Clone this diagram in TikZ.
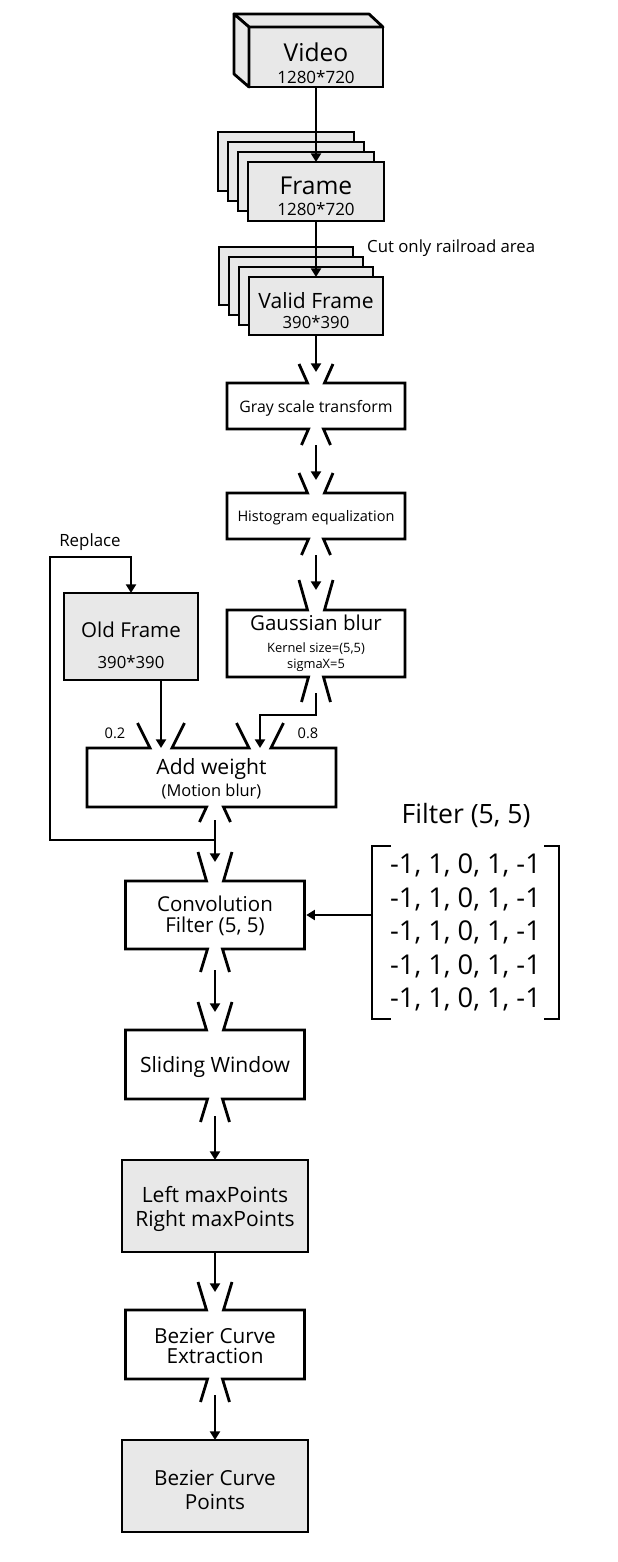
\documentclass[tikz,border=0pt]{standalone}
\usepackage{fontspec}
\setmainfont{Open Sans}
\usetikzlibrary{positioning, arrows.meta, shapes, calc, shadows}
\newcommand{\pu}{0.03cm}
\newcommand{\fs}[2]{\fontsize{#1}{#2}\selectfont}
% outline of a step box with a funnel on top and bottom
\newcommand{\procframe}[3]{%
  \draw[boxline] ($(#1.north)+(-17,-#2)$) -- ($(#1.north)+(-8.5,0)$) -- (#1.north west) -- (#1.south west) -- ($(#1.south)+(-7.5,0)$) -- ($(#1.south)+(-14.5,#3)$);
  \draw[boxline] ($(#1.north)+(17,-#2)$) -- ($(#1.north)+(8.5,0)$) -- (#1.north east) -- (#1.south east) -- ($(#1.south)+(7.5,0)$) -- ($(#1.south)+(14.5,#3)$);
}
\tikzset{
  databox/.style={draw, line width=2.4pt, fill=black!9, align=center, inner sep=0pt, outer sep=0pt},
  procnode/.style={align=center, inner sep=0pt, outer sep=0pt},
  boxline/.style={line width=2.4pt},
  stack/.style={
    copy shadow={shadow xshift=-0.9cm, shadow yshift=0.9cm, fill=black!9, draw=black, line width=2.4pt},
    copy shadow={shadow xshift=-0.6cm, shadow yshift=0.6cm, fill=black!9, draw=black, line width=2.4pt},
    copy shadow={shadow xshift=-0.3cm, shadow yshift=0.3cm, fill=black!9, draw=black, line width=2.4pt}},
  flow/.style={-{Triangle[length=2.6mm, width=3mm]}, line width=2pt},
  note/.style={inner sep=0pt}
}

\begin{document}
\begin{tikzpicture}[x=0.03cm, y=-0.03cm]
    \useasboundingbox (0,0) rectangle (618,1562);

    % input side
    \node[databox, minimum width=134*\pu, minimum height=60*\pu, font={\fs{21}{20.5}}] (video) at (316,57) {\rule{0pt}{26.2pt}Video\\[-1.8pt]\fs{14.5}{20.5}1280*720};
    \draw[boxline, line join=round, fill=black!9] (video.north west) -- ++(-15,-13) -- ($(video.north east)+(-14,-13)$) -- (video.north east) -- cycle;
    \draw[boxline, line join=round, fill=black!9] (video.north west) -- ++(-15,-13) -- ($(video.south west)+(-15,-13)$) -- (video.south west) -- cycle;

    \node[databox, stack, minimum width=136*\pu, minimum height=59*\pu, font={\fs{21}{20.5}}] (frame) at (316,191.5) {\rule{0pt}{23.5pt}Frame\\[-2.4pt]\fs{14.5}{20.5}1280*720};
    \node[databox, stack, minimum width=134*\pu, minimum height=58*\pu, font={\fs{18}{19.6}}] (valid) at (316,306) {\rule{0pt}{21.4pt}Valid Frame\\[-2.6pt]\fs{14.3}{19.6}390*390};
    \node[note, anchor=west, font={\fs{14.3}{16}}] (cut) at (367,248) {Cut only railroad area};

    % preprocessing
    \node[procnode, minimum width=178*\pu, minimum height=46*\pu, font={\fs{13.5}{16}}, text depth=-0.2pt] (gray) at (316,406) {Gray scale transform};
    \node[procnode, minimum width=178*\pu, minimum height=46*\pu, font={\fs{12.4}{15}}, text depth=-0.4pt] (hist) at (316,516) {Histogram equalization};
    \node[procnode, minimum width=178*\pu, minimum height=67*\pu, font={\fs{17.5}{18.8}}] (gauss) at (316,643.5) {Gaussian blur\\\fs{11}{18.8}Kernel size=(5,5)\\[-5.1pt]\fs{11}{18.8}sigmaX=5};
    \procframe{gray}{19}{16}
    \procframe{hist}{20}{16}
    \procframe{gauss}{30}{25}

    % motion blur with the previous frame
    \node[databox, minimum width=134*\pu, minimum height=87*\pu, font={\fs{17.5}{28}}] (old) at (131,636.5) {\rule{0pt}{28.7pt}Old Frame\\[-1.7pt]\fs{14.3}{28}390*390};
    \node[note, font={\fs{14.4}{16}}] (replace) at (90,542) {Replace};
    \node[procnode, minimum width=249*\pu, minimum height=59*\pu, font={\fs{18}{18.8}}] (add) at (211.5,777.5) {\rule{0pt}{15.4pt}Add weight\\\fs{14}{18.8}(Motion blur)};
    \coordinate (addin1) at ($(add.north)+(-50.5,0)$);
    \coordinate (addin2) at ($(add.north)+(48.5,0)$);
    \coordinate (addout) at ($(add.south)+(3.5,0)$);
    \draw[boxline] ($(addin1)+(-23.5,-25)$) -- ($(addin1)+(-11,0)$) -- (add.north west) -- (add.south west) -- ($(addout)+(-8.5,0)$) -- ($(addout)+(-15.5,15)$);
    \draw[boxline] ($(addin1)+(23.5,-25)$) -- ($(addin1)+(11,0)$) -- ($(addin2)+(-11,0)$) -- ($(addin2)+(-23.5,-25)$);
    \draw[boxline] ($(addin2)+(23.5,-25)$) -- ($(addin2)+(11,0)$) -- (add.north east) -- (add.south east) -- ($(addout)+(8.5,0)$) -- ($(addout)+(15.5,15)$);
    \node[note, font={\fs{12.5}{14}}] (w02) at (115,733) {0.2};
    \node[note, font={\fs{12.5}{14}}] (w08) at (308,733) {0.8};

    % lane detection
    \node[procnode, minimum width=179*\pu, minimum height=68*\pu, font={\fs{17.5}{17.5}}] (conv) at (215,915) {\rule{0pt}{14.9pt}Convolution\\Filter (5, 5)};
    \node[procnode, minimum width=179*\pu, minimum height=69*\pu, font={\fs{18}{19}}, text depth=-0.8pt] (slide) at (215,1064.5) {Sliding Window};
    \node[databox, minimum width=186*\pu, minimum height=92*\pu, font={\fs{18}{21.3}}] (maxp) at (215,1206) {\rule{0pt}{18.8pt}Left maxPoints\\Right maxPoints};
    \node[procnode, minimum width=179*\pu, minimum height=69*\pu, font={\fs{17.7}{17.5}}] (bez) at (215,1344.5) {\rule{0pt}{15.9pt}Bezier Curve\\Extraction};
    \node[databox, minimum width=186*\pu, minimum height=92*\pu, font={\fs{17.7}{20.5}}] (pts) at (215,1486) {\rule{0pt}{20.3pt}Bezier Curve\\Points};
    \procframe{conv}{29}{23}
    \procframe{slide}{28}{23}
    \procframe{bez}{28}{23}

    % filter kernel
    \node[note, font={\fs{22.7}{24}}] (filtitle) at (466,815) {Filter (5, 5)};
    \node[procnode, minimum width=187*\pu, minimum height=173*\pu, font={\fs{23.3}{28.6}}] (mat) at (465.5,932.5) {-1, 1, 0, 1, -1\\-1, 1, 0, 1, -1\\-1, 1, 0, 1, -1\\-1, 1, 0, 1, -1\\-1, 1, 0, 1, -1};
    \draw[boxline] ($(mat.north west)+(19,0)$) -- (mat.north west) -- (mat.south west) -- ($(mat.south west)+(19,0)$);
    \draw[boxline] ($(mat.north east)+(-15,0)$) -- (mat.north east) -- (mat.south east) -- ($(mat.south east)+(-15,0)$);

    % connectors
    \draw[flow] (video.south) -- (frame.north);
    \draw[flow] (frame.south) -- (valid.north);
    \draw[flow] (valid.south) -- ($(gray.north)+(0,-11)$);
    \draw[flow] ($(gray.south)+(0,16)$) -- ($(hist.north)+(0,-13)$);
    \draw[flow] ($(hist.south)+(0,16)$) -- ($(gauss.north)+(0,-20)$);
    \draw[flow] ($(gauss.south)+(0,16)$) -- ($(gauss.south)+(0,38)$) -| (addin2);
    \draw[flow] (addin1 |- old.south) -- (addin1);
    \coordinate (split) at ($(addout)+(0,33)$);
    \coordinate (loop) at (50,557);
    \draw[flow] ($(addout)+(0,13)$) -- ($(conv.north)+(0,-19)$);
    \draw[flow] (split) -| (loop) -- (loop -| old.north) -- (old.north);
    \draw[flow, shorten >=1.5pt] (mat.west |- conv.east) -- (conv.east);
    \draw[flow] ($(conv.south)+(0,21)$) -- ($(slide.north)+(0,-18)$);
    \draw[flow] ($(slide.south)+(0,17)$) -- (maxp.north);
    \draw[flow] (maxp.south) -- ($(bez.north)+(0,-18)$);
    \draw[flow] ($(bez.south)+(0,16)$) -- (pts.north);
\end{tikzpicture}
\end{document}
